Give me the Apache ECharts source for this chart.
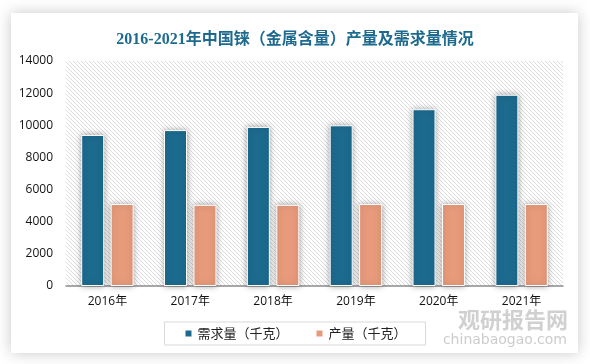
<!DOCTYPE html>
<html>
<head>
<meta charset="utf-8">
<script src="https://cdn.jsdelivr.net/npm/echarts@6/dist/echarts.min.js"></script>
<style>
html,body{margin:0;padding:0;background:#fff;}
#main{width:590px;height:364px;}
</style>
</head>
<body>
<div id="main"></div>
<script>
const categories = ['2016年','2017年','2018年','2019年','2020年','2021年'];
const demand = [9400, 9700, 9900, 10000, 11000, 11900];
const production = [5100, 5050, 5050, 5100, 5100, 5100];
const seriesNames = ['需求量（千克）', '产量（千克）'];
const titleText = '2016-2021年中国铼（金属含量）产量及需求量情况';

const tile = document.createElement('canvas');
tile.width = 4; tile.height = 4;
const tctx = tile.getContext('2d');
tctx.fillStyle = '#fff';
tctx.fillRect(0,0,4,4);
tctx.fillStyle = '#dcdcdc';
for (let i = 0; i < 4; i++) tctx.fillRect(i, i, 1, 1);

const chart = echarts.init(document.getElementById('main'), null, {renderer:'canvas'});
chart.setOption({
  animation: false,
  backgroundColor: '#ffffff',
  graphic: [
    {type:'rect', z:-10, shape:{x:11,y:13,width:567,height:340},
     style:{fill:'#fff', shadowBlur:14, shadowColor:'rgba(0,0,0,0.22)', shadowOffsetX:0, shadowOffsetY:0}},
    {type:'text', right: 22, bottom: 33, z: 5,
     style:{text:'观研报告网', font:'bold 22px "Noto Sans CJK SC"', fill:'rgba(170,170,170,0.55)'}},
    {type:'text', right: 23, bottom: 17, z: 5,
     style:{text:'chinabaogao.com', font:'14px "DejaVu Sans"', fill:'rgba(170,170,170,0.6)'}}
  ],
  title: {
    text: titleText,
    left: 'center',
    top: 27,
    textStyle: {fontFamily: '"Liberation Serif", "Noto Sans CJK SC"', fontSize: 16, fontWeight: 'bold', color: '#1d6a8e'}
  },
  grid: {
    left: 66, right: 27, top: 61, bottom: 78,
    show: true, borderWidth: 0,
    backgroundColor: {image: tile, repeat: 'repeat'}
  },
  legend: {
    bottom: 19, left: 'center',
    itemWidth: 8, itemHeight: 8, icon: 'rect', itemGap: 26,
    borderColor: '#d9d9d9', borderWidth: 1, padding: [5, 19],
    textStyle: {fontFamily: '"Noto Sans CJK SC"', fontSize: 13, color: '#222'},
    data: seriesNames
  },
  xAxis: {
    type: 'category',
    data: categories,
    axisLine: {lineStyle: {color: '#8c8c8c', width: 1.5}},
    axisTick: {show: false},
    axisLabel: {margin: 10, fontSize: 12, color: '#111', fontFamily: '"Open Sans", "Noto Sans CJK SC"'}
  },
  yAxis: {
    type: 'value', min: 0, max: 14000, interval: 2000,
    axisLine: {show: false}, axisTick: {show: false}, splitLine: {show: false},
    axisLabel: {margin: 13, fontSize: 12, color: '#111', fontFamily: '"Open Sans"', formatter: v => String(v)}
  },
  series: [
    {name: seriesNames[0], type: 'bar', data: demand, barWidth: 23, barGap: '28%',
     itemStyle: {color: '#1c6b8f', borderColor: '#fff', borderWidth: 1, shadowBlur: 6, shadowColor: 'rgba(0,0,0,0.35)'}},
    {name: seriesNames[1], type: 'bar', data: production, barWidth: 23, barGap: '28%',
     itemStyle: {color: '#e89b7b', borderColor: '#fff', borderWidth: 1, shadowBlur: 6, shadowColor: 'rgba(0,0,0,0.35)'}}
  ]
});
</script>
</body>
</html>
